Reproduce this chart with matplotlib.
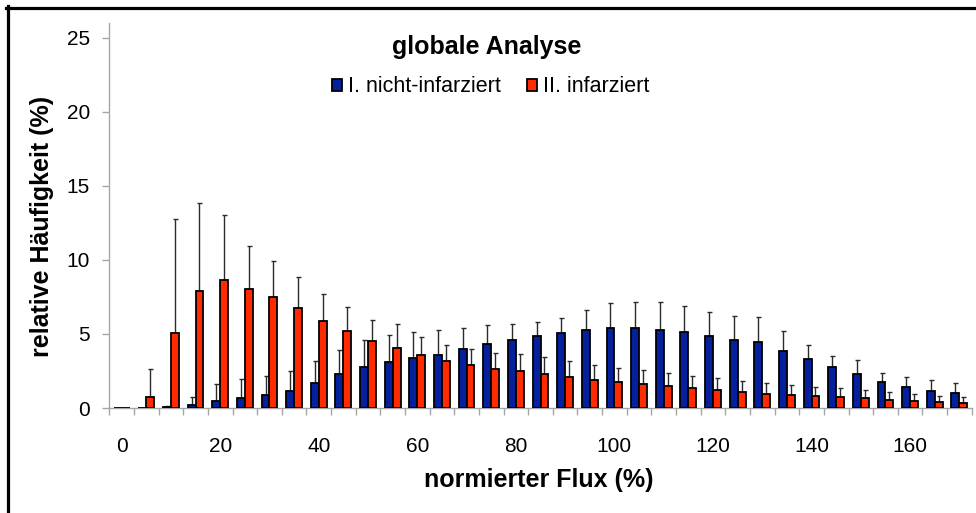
import numpy as np
import matplotlib
matplotlib.use("Agg")
import matplotlib.pyplot as plt
from matplotlib.lines import Line2D

plt.rcParams['font.family'] = ['Liberation Sans', 'DejaVu Sans']

# normierter Flux (%) bins
flux = list(range(0, 175, 5))

# I. nicht-infarziert
blue_vals = [0, 0, 0.05, 0.2, 0.47, 0.65, 0.88, 1.17, 1.67, 2.32, 2.8, 3.09, 3.36, 3.6,
             3.99, 4.35, 4.62, 4.89, 5.05, 5.23, 5.38, 5.38, 5.25, 5.14, 4.86, 4.62,
             4.44, 3.85, 3.29, 2.77, 2.32, 1.78, 1.42, 1.17, 0.99]
blue_err = [0, 0, 0.1, 0.57, 1.13, 1.31, 1.31, 1.33, 1.48, 1.58, 1.82, 1.82, 1.78, 1.65,
            1.44, 1.26, 1.03, 0.9, 1.05, 1.35, 1.71, 1.76, 1.93, 1.71, 1.65, 1.57,
            1.68, 1.35, 0.97, 0.72, 0.9, 0.56, 0.7, 0.72, 0.68]

# II. infarziert
red_vals = [0, 0.74, 5.07, 7.9, 8.65, 8.0, 7.52, 6.76, 5.9, 5.18, 4.53, 4.08, 3.6, 3.2,
            2.9, 2.64, 2.5, 2.3, 2.09, 1.91, 1.76, 1.65, 1.49, 1.33, 1.24, 1.1, 0.97,
            0.86, 0.79, 0.74, 0.65, 0.56, 0.49, 0.41, 0.34]
red_err = [0, 1.86, 7.68, 5.93, 4.35, 2.92, 2.39, 2.07, 1.76, 1.62, 1.42, 1.57, 1.2, 1.08,
           1.11, 1.1, 1.13, 1.12, 1.09, 1.02, 0.97, 0.92, 0.85, 0.83, 0.76, 0.72, 0.7,
           0.67, 0.63, 0.59, 0.59, 0.52, 0.46, 0.42, 0.42]

labels = ["I. nicht-infarziert", "II. infarziert"]
colors = ["#04209C", "#FF2A00"]

W, H = 976, 513
fig = plt.figure(figsize=(W / 100, H / 100), dpi=100)
ax = fig.add_axes([109.3 / W, 1 - 408 / H, (971.7 - 109.3) / W, (408 - 22.7) / H])

x = np.arange(len(flux))
bw = 0.32

def masked(err):
    e = np.array(err, dtype=float)
    return np.where(e > 0, e, np.nan)

for off, vals, err, col, lab in [(-bw / 2, blue_vals, blue_err, colors[0], labels[0]),
                                 (bw / 2, red_vals, red_err, colors[1], labels[1])]:
    ax.bar(x + off, vals, width=bw, color=col, edgecolor="black", linewidth=1.3,
           label=lab, zorder=3)
    e = masked(err)
    ax.errorbar(x + off, vals, yerr=[np.zeros(len(e)), e], fmt="none",
                ecolor="#2b2b2b", elinewidth=1.0, capsize=1.8, capthick=1.0, zorder=2)

ax.set_xlim(-0.5, len(flux) - 0.5)
ax.set_ylim(0, 26)
ax.set_yticks([0, 5, 10, 15, 20, 25])
ax.set_xticks(x[::4])
ax.set_xticklabels([str(f) for f in flux[::4]])
ax.set_xticks(np.arange(len(flux) + 1) - 0.5, minor=True)

for s in ["top", "right"]:
    ax.spines[s].set_visible(False)
for s in ["left", "bottom"]:
    ax.spines[s].set_color("#a6a6a6")
    ax.spines[s].set_linewidth(1.0)

ax.tick_params(axis="y", direction="out", length=5, width=1, color="#a6a6a6",
               labelsize=15, pad=9)
ax.tick_params(axis="x", which="major", length=0, labelsize=15, pad=21)
ax.tick_params(axis="x", which="minor", direction="out", length=5, width=1,
               color="#a6a6a6")

fig.text(487 / W, 1 - 47 / H, "globale Analyse", ha="center", va="center",
         fontsize=18, fontweight="bold")
fig.text(42 / W, 1 - 226 / H, "relative Häufigkeit (%)", rotation=90, ha="center",
         va="center", fontsize=18, fontweight="bold")
fig.text(539 / W, 1 - 480 / H, "normierter Flux (%)", ha="center", va="center",
         fontsize=18, fontweight="bold")

ax.legend(loc="center", bbox_to_anchor=(491 / W, 1 - 87 / H), bbox_transform=fig.transFigure,
          ncol=2, frameon=False, fontsize=15.5, handlelength=0.45, handleheight=0.45,
          handletextpad=0.3, columnspacing=1.2, borderpad=0)

# outer frame (top and left edges only are visible)
fig.add_artist(Line2D([6 / W, 1], [1 - 7.5 / H, 1 - 7.5 / H], color="black", lw=2.3,
                      transform=fig.transFigure))
fig.add_artist(Line2D([7.5 / W, 7.5 / W], [0, 1 - 6 / H], color="black", lw=2.3,
                      transform=fig.transFigure))

fig.savefig("out.png", dpi=100)
